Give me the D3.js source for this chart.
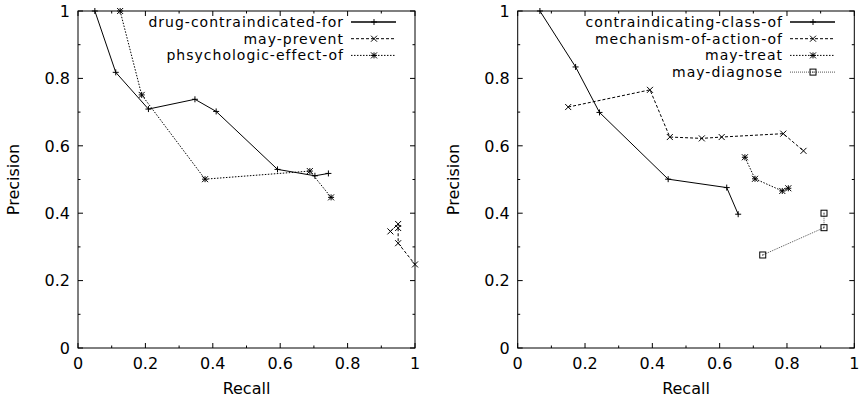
<!DOCTYPE html>
<html>
<head>
<meta charset="utf-8">
<script src="https://cdn.jsdelivr.net/npm/d3@7"></script>
<style>
  body { margin: 0; background: #fff; }
  text { font-family: "DejaVu Sans", Verdana, sans-serif; font-size: 16px; fill: #000; }
  text.legend { font-size: 14px; letter-spacing: 1px; }
</style>
</head>
<body>
<div id="chart"></div>
<script>
const W = 863, H = 399;

// left panel
const drugContraRecall    = [0.05, 0.112, 0.209, 0.347, 0.41, 0.592, 0.703, 0.743];
const drugContraPrecision = [1.0, 0.818, 0.709, 0.738, 0.702, 0.53, 0.511, 0.518];
const mayPreventRecall    = [0.927, 0.95, 0.95, 0.95, 1.0];
const mayPreventPrecision = [0.346, 0.368, 0.356, 0.311, 0.248];
const psychoRecall        = [0.125, 0.189, 0.377, 0.688, 0.751];
const psychoPrecision     = [1.0, 0.751, 0.501, 0.525, 0.447];

// right panel
const contraClassRecall    = [0.066, 0.172, 0.243, 0.447, 0.621, 0.655];
const contraClassPrecision = [1.0, 0.834, 0.699, 0.501, 0.476, 0.397];
const mechRecall           = [0.150, 0.393, 0.452, 0.547, 0.606, 0.789, 0.849];
const mechPrecision        = [0.715, 0.766, 0.626, 0.622, 0.626, 0.636, 0.585];
const mayTreatRecall       = [0.675, 0.705, 0.786, 0.804];
const mayTreatPrecision    = [0.566, 0.502, 0.466, 0.474];
const mayDiagRecall        = [0.728, 0.91, 0.91];
const mayDiagPrecision     = [0.276, 0.357, 0.400];

const ticks = [0, 0.2, 0.4, 0.6, 0.8, 1];
const tickLabels = ["0", "0.2", "0.4", "0.6", "0.8", "1"];
const minorTicks = [0.1, 0.3, 0.5, 0.7, 0.9];

const svg = d3.select("#chart").append("svg")
  .attr("width", W).attr("height", H);

function zip(xs, ys) { return xs.map((x, i) => ({ x: x, y: ys[i] })); }

function marker(g, type, x, y, color) {
  const s = 3;
  if (type == "plus" || type == "star") {
    g.append("path").attr("d", `M${x - s},${y}H${x + s}M${x},${y - s}V${y + s}`)
      .attr("stroke", color).attr("stroke-width", 1).attr("fill", "none");
  }
  if (type == "cross" || type == "star") {
    g.append("path").attr("d", `M${x - s},${y - s}L${x + s},${y + s}M${x - s},${y + s}L${x + s},${y - s}`)
      .attr("stroke", color).attr("stroke-width", 1).attr("fill", "none");
  }
  if (type == "square") {
    g.append("rect").attr("x", x - 3).attr("y", y - 3).attr("width", 6).attr("height", 6)
      .attr("stroke", color).attr("stroke-width", 1).attr("fill", "none");
    g.append("rect").attr("x", x - 0.5).attr("y", y - 0.5).attr("width", 1).attr("height", 1)
      .attr("fill", color);
  }
}

function panel(left, right, series, legendX) {
  const top = 11, bottom = 348;
  const x = d3.scaleLinear().domain([0, 1]).range([left, right]);
  const y = d3.scaleLinear().domain([0, 1]).range([bottom, top]);
  const g = svg.append("g");

  // ticks (inward, mirrored)
  const tk = g.append("g").attr("stroke", "#000").attr("stroke-width", 1);
  ticks.forEach(t => {
    tk.append("line").attr("x1", x(t)).attr("x2", x(t)).attr("y1", bottom).attr("y2", bottom - 5);
    tk.append("line").attr("x1", x(t)).attr("x2", x(t)).attr("y1", top).attr("y2", top + 5);
    tk.append("line").attr("y1", y(t)).attr("y2", y(t)).attr("x1", left).attr("x2", left + 5);
    tk.append("line").attr("y1", y(t)).attr("y2", y(t)).attr("x1", right).attr("x2", right - 5);
  });
  minorTicks.forEach(t => {
    tk.append("line").attr("x1", x(t)).attr("x2", x(t)).attr("y1", bottom).attr("y2", bottom - 2.5);
    tk.append("line").attr("x1", x(t)).attr("x2", x(t)).attr("y1", top).attr("y2", top + 2.5);
    tk.append("line").attr("y1", y(t)).attr("y2", y(t)).attr("x1", left).attr("x2", left + 2.5);
    tk.append("line").attr("y1", y(t)).attr("y2", y(t)).attr("x1", right).attr("x2", right - 2.5);
  });

  g.append("rect").attr("x", left).attr("y", top)
    .attr("width", right - left).attr("height", bottom - top)
    .attr("fill", "none").attr("stroke", "#000").attr("stroke-width", 1);

  ticks.forEach((t, i) => {
    g.append("text").attr("x", left - 8).attr("y", y(t)).attr("dy", "0.36em")
      .attr("text-anchor", "end").text(tickLabels[i]);
    g.append("text").attr("x", x(t)).attr("y", 369)
      .attr("text-anchor", "middle").text(tickLabels[i]);
  });

  g.append("text").attr("x", (left + right) / 2).attr("y", 394)
    .attr("text-anchor", "middle").text("Recall");
  g.append("text")
    .attr("transform", `translate(${left - 59},${(top + bottom) / 2}) rotate(-90)`)
    .attr("text-anchor", "middle").text("Precision");

  const line = d3.line().x(d => x(d.x)).y(d => y(d.y));

  series.forEach((s, i) => {
    const pts = zip(s.recall, s.precision);
    g.append("path").datum(pts).attr("d", line)
      .attr("fill", "none").attr("stroke", s.color).attr("stroke-width", 1)
      .attr("stroke-dasharray", s.dash);
    pts.forEach(p => marker(g, s.marker, x(p.x), y(p.y), "#000"));

    const ly = 22 + i * 16.7;
    g.append("text").attr("class", "legend").attr("x", legendX + 1).attr("y", ly).attr("dy", "0.36em")
      .attr("text-anchor", "end").text(s.name);
    g.append("line").attr("x1", legendX + 8).attr("x2", legendX + 53)
      .attr("y1", ly).attr("y2", ly)
      .attr("stroke", s.color).attr("stroke-width", s.dash ? 1 : 1.5)
      .attr("stroke-dasharray", s.dash);
    marker(g, s.marker, legendX + 31, ly, "#000");
  });
}

panel(78, 415, [
  { name: "drug-contraindicated-for", recall: drugContraRecall, precision: drugContraPrecision, marker: "plus", dash: null, color: "#000" },
  { name: "may-prevent", recall: mayPreventRecall, precision: mayPreventPrecision, marker: "cross", dash: "3,2", color: "#000" },
  { name: "phsychologic-effect-of", recall: psychoRecall, precision: psychoPrecision, marker: "star", dash: "1.5,1.5", color: "#000" }
], 343);

panel(517.7, 854.3, [
  { name: "contraindicating-class-of", recall: contraClassRecall, precision: contraClassPrecision, marker: "plus", dash: null, color: "#000" },
  { name: "mechanism-of-action-of", recall: mechRecall, precision: mechPrecision, marker: "cross", dash: "3,2", color: "#000" },
  { name: "may-treat", recall: mayTreatRecall, precision: mayTreatPrecision, marker: "star", dash: "1.5,1.5", color: "#000" },
  { name: "may-diagnose", recall: mayDiagRecall, precision: mayDiagPrecision, marker: "square", dash: "1,1", color: "#555" }
], 782);
</script>
</body>
</html>
